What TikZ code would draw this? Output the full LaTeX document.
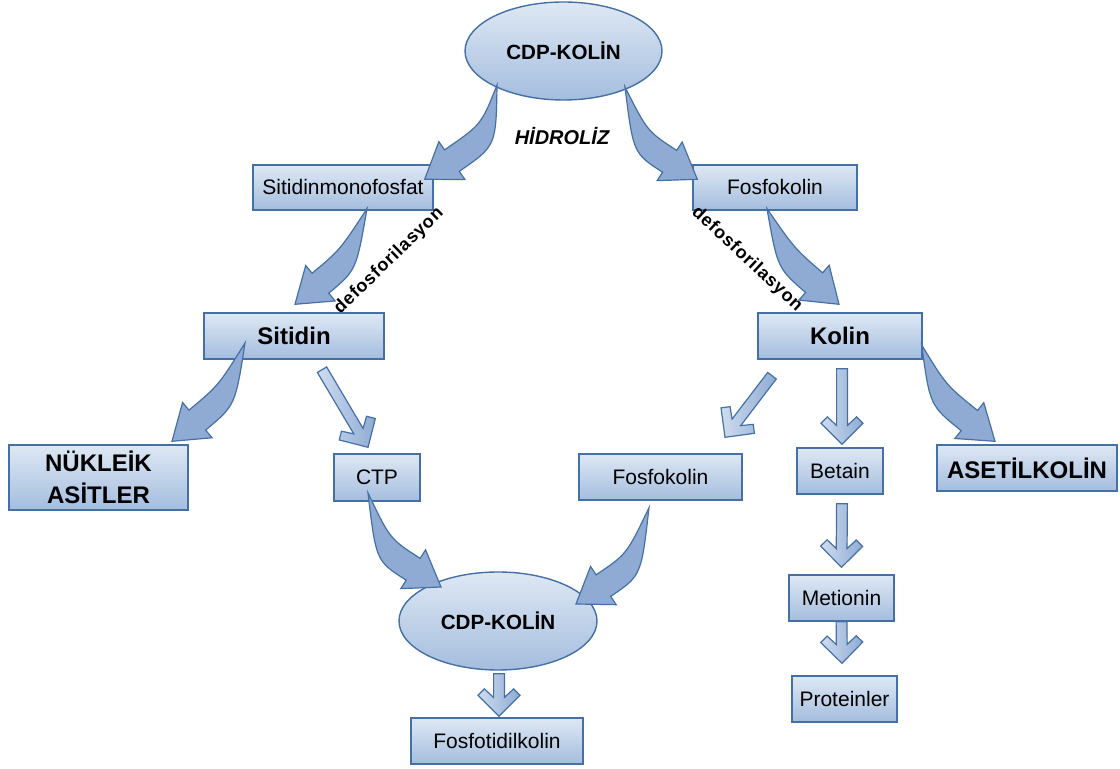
\documentclass[tikz,border=0pt]{standalone}
\usepackage{fontspec}
\setmainfont{Liberation Sans}
\newfontfamily\spacedfont[LetterSpace=4]{Liberation Sans}
\usetikzlibrary{shapes.geometric,calc}

\definecolor{boxtop}{RGB}{222,232,244}
\definecolor{boxbot}{RGB}{164,189,222}
\definecolor{boxline}{RGB}{68,112,166}
\definecolor{arrfill}{RGB}{143,171,211}
\definecolor{arrlight}{RGB}{206,220,239}

\newcommand\bentarrow[3]{%
	\path (#1) coordinate (ca) (#2) coordinate (ct) ++(#3) coordinate (cc);
	\path ($(ct)!16.5pt!(cc)$) coordinate (cb);
	\draw[bentarr] (ca) .. controls ($(cc)!6.5pt!90:(ct)$) .. ($(cb)!6.5pt!90:(ct)$) -- ($(cb)!11.5pt!90:(ct)$) -- (ct) -- ($(cb)!11.5pt!-90:(ct)$) -- ($(cb)!6.5pt!-90:(ct)$) .. controls ($(cc)!6.5pt!-90:(ct)$) .. (ca) -- cycle;
}
\newcommand\fatarrow[2]{%
	\path (#1) coordinate (sa) (#2) coordinate (st);
	\path ($(st)!9.4pt!(sa)$) coordinate (sq) ($(st)!13.7pt!(sa)$) coordinate (sw) ($(st)!10.5pt!(sa)$) coordinate (so);
	\draw[fatarr] ($(sa)!2.7pt!90:(st)$) -- ($(sq)!2.7pt!90:(st)$) -- ($(sw)!7.3pt!90:(st)$) -- ($(so)!10.5pt!90:(st)$) -- (st) -- ($(so)!10.5pt!-90:(st)$) -- ($(sw)!7.3pt!-90:(st)$) -- ($(sq)!2.7pt!-90:(st)$) -- ($(sa)!2.7pt!-90:(st)$) -- cycle;
}

\begin{document}
\begin{tikzpicture}[x=0.5pt, y=-0.5pt,
	molbox/.style={rectangle, draw=boxline, line width=0.7pt, top color=boxtop, bottom color=boxbot, inner sep=0pt, font=\fontsize{10.5}{12.6}\selectfont},
	mainbox/.style={molbox, align=center, font=\fontsize{12}{16}\selectfont\bfseries},
	moloval/.style={ellipse, draw=boxline, line width=0.7pt, top color=boxtop, bottom color=boxbot, inner sep=0pt, font=\fontsize{10.3}{12}\selectfont\bfseries},
	bentarr/.style={draw=boxline, line width=0.6pt, fill=arrfill, line join=miter},
	fatarr/.style={draw=boxline, line width=0.6pt, left color=arrlight, right color=arrfill, line join=miter},
	steplabel/.style={font=\spacedfont\fontsize{9}{10}\selectfont\bfseries, inner sep=0pt}]
	\useasboundingbox (0,0) rectangle (1120,769);
	\node[moloval, minimum width=98.5pt, minimum height=49pt] (cdptop) at (563.5,51) {CDP-KOLİN};
	\node[molbox, minimum width=90pt, minimum height=22.5pt] (smf) at (343,187.5) {Sitidinmonofosfat};
	\node[molbox, minimum width=82pt, minimum height=22.5pt] (fosfotop) at (775,187.5) {Fosfokolin};
	\node[mainbox, minimum width=90pt, minimum height=23pt] (sitidin) at (294,336) {Sitidin};
	\node[mainbox, minimum width=82pt, minimum height=23pt] (kolin) at (840,336) {Kolin};
	\node[mainbox, minimum width=89.5pt, minimum height=32.5pt] (nukleik) at (98.5,477.5) {NÜKLEİK\\ASİTLER};
	\node[molbox, minimum width=43pt, minimum height=23.5pt] (ctp) at (377,477.5) {CTP};
	\node[molbox, minimum width=81.5pt, minimum height=23pt] (fosfomid) at (660.5,477) {Fosfokolin};
	\node[molbox, minimum width=43pt, minimum height=23pt] (betain) at (840,471) {Betain};
	\node[mainbox, minimum width=90pt, minimum height=23pt] (asetil) at (1027,468) {ASETİLKOLİN};
	\node[moloval, minimum width=99pt, minimum height=49pt] (cdpbot) at (498,621) {CDP-KOLİN};
	\node[molbox, minimum width=52.5pt, minimum height=23pt] (metionin) at (841.5,598) {Metionin};
	\node[molbox, minimum width=52.5pt, minimum height=23pt] (protein) at (844.5,699) {Proteinler};
	\node[molbox, minimum width=86pt, minimum height=23pt] (fosfotidil) at (497,741) {Fosfotidilkolin};
	\node[font=\fontsize{10}{12}\selectfont\bfseries\itshape] (hidroliz) at (562,136) {HİDROLİZ};
	\node[steplabel, rotate=44] (defleft) at (389,261) {defosforilasyon};
	\node[steplabel, rotate=-43] (defright) at (747,259) {defosforilasyon};
	\bentarrow{$(cdptop.center)+(-66.5,34)$}{$(smf.north east)+(-9,15)$}{64,-44}
	\bentarrow{$(cdptop.center)+(61.5,36)$}{$(fosfotop.north west)+(5,15)$}{-57,-37}
	\bentarrow{$(smf.south)+(24,-2)$}{$(sitidin.north)+(1,-8)$}{53,-44}
	\bentarrow{$(fosfotop.south)+(-8,-2)$}{$(kolin.north)+(-1,-8)$}{-53,-46}
	\bentarrow{$(sitidin.center)+(-49,7)$}{$(nukleik.north)+(73.5,-3)$}{55,-46}
	\bentarrow{$(kolin.east)+(-1,9)$}{$(asetil.north)+(-32,-3)$}{-57,-46}
	\bentarrow{$(ctp.center)+(-9,15.5)$}{$(cdpbot.center)+(-57,-34)$}{-58,-37}
	\bentarrow{$(fosfomid.south)+(-11.5,7)$}{$(cdpbot.center)+(78,-17)$}{58,-39}
	\fatarrow{$(sitidin.south)+(28,10)$}{$(ctp.north)+(-9,-6)$}
	\fatarrow{$(kolin.south)+(-68,16)$}{$(fosfomid.north)+(64.5,-16)$}
	\fatarrow{$(kolin.south)+(2,9)$}{$(betain.north)+(2,-3)$}
	\fatarrow{$(betain.south)+(2,9)$}{$(metionin.north)+(0,-7)$}
	\fatarrow{$(metionin.south)+(0,0)$}{$(protein.north)+(-2.5,-12)$}
	\fatarrow{$(cdpbot.south)+(1,3)$}{$(fosfotidil.north)+(2,-1)$}
\end{tikzpicture}
\end{document}
